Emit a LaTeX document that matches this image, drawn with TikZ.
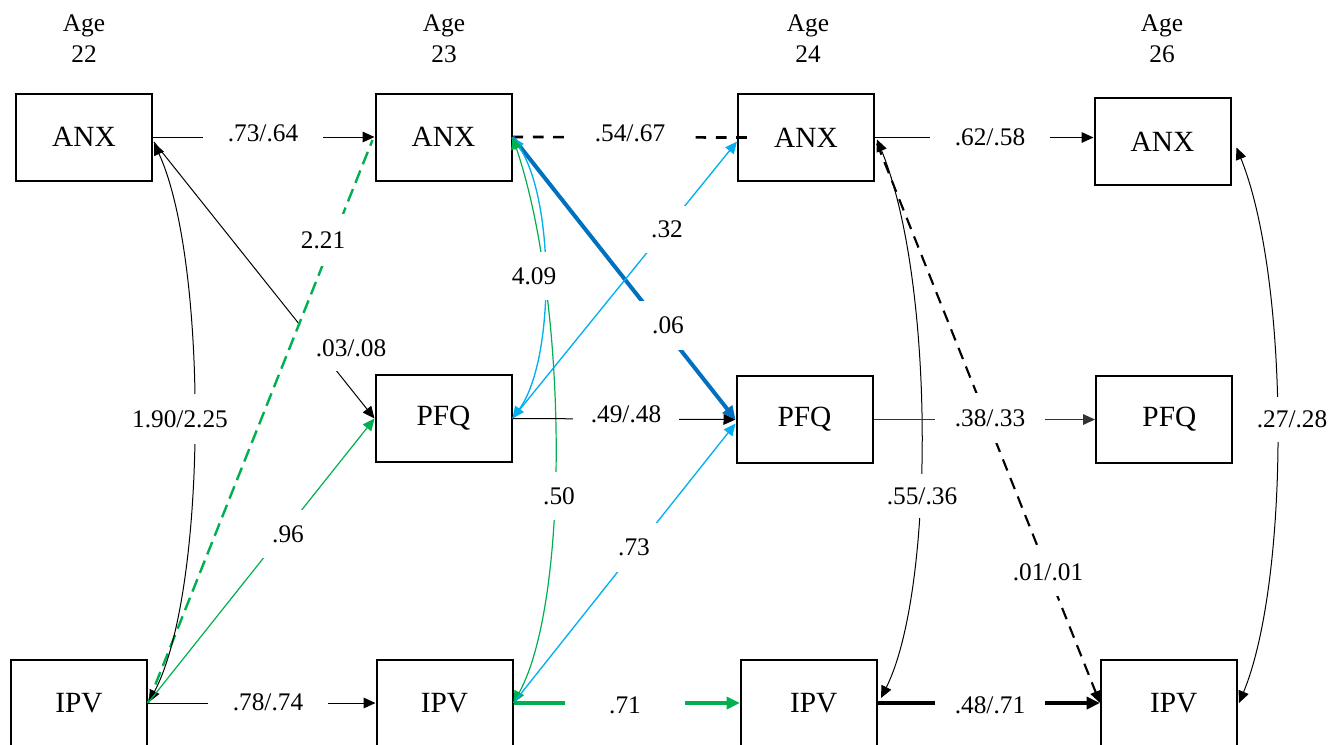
\documentclass[tikz,border=0pt]{standalone}
\usepackage{fontspec}
\setmainfont{Liberation Serif}
\usetikzlibrary{arrows.meta,calc}
\definecolor{pgreen}{HTML}{00B050}
\definecolor{pcyan}{HTML}{00B0F0}
\definecolor{pblue}{HTML}{0070C0}

\tikzset{
  box/.style={draw=black, line width=1.5pt, minimum width=102pt, minimum height=65.25pt,
    inner sep=0pt, font=\fontsize{22}{26}\selectfont},
  age/.style={align=center, inner sep=0pt, font=\fontsize{19}{23.25}\selectfont},
  lbl/.style={fill=white, inner sep=0pt, minimum width=90pt, minimum height=36pt,
    font=\fontsize{19}{23}\selectfont},
  thinln/.style={draw=black, line width=0.75pt},
  arr/.style={-{Triangle[length=9pt,width=8pt]}},
  arrboth/.style={{Triangle[length=9pt,width=8pt]}-{Triangle[length=9pt,width=8pt]}},
  arrthick/.style={-{Triangle[length=10pt,width=9pt]}},
}

\begin{document}
\begin{tikzpicture}[x=0.75pt,y=-0.75pt]
\useasboundingbox (0,0) rectangle (1330,744);
\fill[white] (0,0) rectangle (1330,744);

% wave headings
\node[age] (a22) at (84,38.8) {Age\\22};
\node[age] (a23) at (444,38.8) {Age\\23};
\node[age] (a24) at (808,38.8) {Age\\24};
\node[age] (a26) at (1162,38.8) {Age\\26};

% measured variables
\node[box] (ANX22) at (84,137) {ANX};
\node[box] (ANX23) at (443.5,137) {ANX};
\node[box] (ANX24) at (806,137.5) {ANX};
\node[box] (ANX26) at (1162.5,141.5) {ANX};
\node[box] (PFQ23) at (443.5,418.5) {PFQ};
\node[box] (PFQ24) at (804.5,419.5) {PFQ};
\node[box] (PFQ26) at (1164,419.5) {\hspace*{8pt}PFQ};
\node[box] (IPV22) at (79,703) {IPV};
\node[box] (IPV23) at (444.5,703) {IPV};
\node[box] (IPV24) at (809,703) {\hspace*{7pt}IPV};
\node[box] (IPV26) at (1169,703) {\hspace*{7pt}IPV};

% ANX22 -> PFQ23 with its coefficient box
\draw[thinln, arr] ($(ANX22.east)+(1,5)$) -- (PFQ23.west);
\node[lbl, minimum width=81pt, minimum height=34.5pt] (l0308) at (351,348) {.03/.08};

% IPV22 -> ANX23 (dashed)
\draw[pgreen, line width=1.8pt, dash pattern=on 10pt off 5pt] (IPV22.east) -- ($(ANX23.west)+(-2,3)$);
\node[lbl, minimum width=75pt, minimum height=39pt] (l221) at (323,240) {2.21};

% age 22 -> 23
\draw[thinln, arr] (ANX22.east) -- (ANX23.west);
\draw[thinln, arrboth] ($(ANX22.east)+(1,6)$) .. controls (208,260) and (208,590) .. ($(IPV22.east)+(1,-1)$);
\draw[pgreen, line width=0.9pt, arr] (IPV22.east) -- (PFQ23.west);
\draw[thinln, arr] (IPV22.east) -- (IPV23.west);

% age 23 -> 24
\draw[black, line width=2pt, dash pattern=on 8pt off 7.25pt] (ANX23.east) -- ($(ANX24.west)+(10,0)$);
\draw[pblue, line width=3pt, arrthick] (ANX23.east) -- (PFQ24.west);
\draw[pcyan, line width=1pt, arrboth] (ANX23.east) .. controls (555,200) and (555,360) .. (PFQ23.east);
\draw[pgreen, line width=0.9pt, arrboth] (ANX23.east) .. controls (568,300) and (570,600) .. (IPV23.east);
\draw[pcyan, line width=1pt, arr] (PFQ23.east) -- ($(ANX24.west)+(0,4)$);
\draw[thinln, arr] (PFQ23.east) -- (PFQ24.west);
\draw[pcyan, line width=1pt, arr] (IPV23.east) -- ($(PFQ24.west)+(0,4)$);
\draw[pgreen, line width=3pt, arrthick] (IPV23.east) -- (IPV24.west);

% age 24 -> 26
\draw[thinln, arr] (ANX24.east) -- (ANX24.east -| ANX26.west);
\draw[thinln, arrboth] ($(ANX24.east)+(2,2)$) .. controls (935,280) and (935,590) .. ($(IPV24.east)+(3,-5)$);
\draw[black, line width=1.6pt, dash pattern=on 9pt off 6pt, arr] ($(ANX24.east)+(2,6)$) -- (IPV26.west);
\draw[draw=black!80, line width=0.75pt, arr] (PFQ24.east) -- (PFQ26.west);
\draw[black, line width=2.5pt, arrthick] (IPV24.east) -- (IPV26.west);
\draw[thinln, arrboth] ($(ANX26.east)+(5,6)$) .. controls (1290,280) and (1290,580) .. ($(IPV26.east)+(1,0)$);

% coefficients
\node[lbl] (l7364) at (263,133) {.73/.64};
\node[lbl, minimum height=37.5pt] (l190) at (180,419) {1.90/2.25};
\node[lbl, minimum width=67.5pt] (l96) at (288,534) {.96};
\node[lbl, minimum height=34.5pt] (l7874) at (268,702) {.78/.74};
\node[lbl, minimum width=95pt] (l5467) at (630,133) {.54/.67};
\node[lbl, minimum width=67.5pt] (l409) at (534,276) {4.09};
\node[lbl, minimum width=60pt, minimum height=35.25pt] (l32) at (667,229) {.32};
\node[lbl, minimum width=64.5pt, minimum height=36.75pt] (l06) at (668,325) {.06};
\node[lbl, minimum width=80pt, minimum height=34.5pt] (l4948) at (626,414) {.49/.48};
\node[lbl, minimum width=60pt] (l50) at (559,496) {.50};
\node[lbl, minimum width=60pt, minimum height=36.75pt] (l73) at (634,547) {.73};
\node[lbl, minimum height=34.5pt] (l71) at (625,705) {.71};
\node[lbl, minimum height=34.5pt] (l6258) at (990,137) {.62/.58};
\node[lbl, minimum width=67.5pt, minimum height=33pt] (l5536) at (922,496) {.55/.36};
\node[lbl, minimum width=75pt] (l0101) at (1048,572) {.01/.01};
\node[lbl, minimum width=82.5pt, minimum height=37.5pt] (l3833) at (990,418) {.38/.33};
\node[lbl, minimum width=83pt, minimum height=34.5pt] (l4871) at (990,705) {.48/.71};
\node[lbl, minimum width=67.5pt, minimum height=33.75pt] (l2728) at (1292,419) {.27/.28};
\end{tikzpicture}
\end{document}
